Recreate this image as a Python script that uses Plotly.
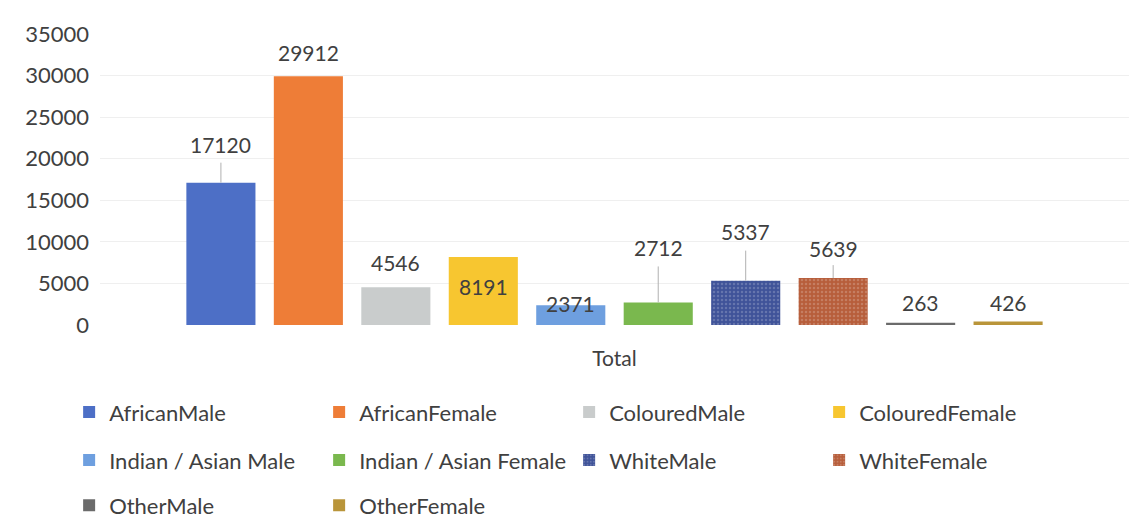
import plotly.graph_objects as go

# Series names, values and colours
series = ["AfricanMale", "AfricanFemale", "ColouredMale", "ColouredFemale",
          "Indian / Asian Male", "Indian / Asian Female", "WhiteMale", "WhiteFemale",
          "OtherMale", "OtherFemale"]
values = [17120, 29912, 4546, 8191, 2371, 2712, 5337, 5639, 263, 426]
category = ["Total"]
colors = ["#4d6fc6", "#ee7d37", "#c9cccc", "#f7c630", "#6e9fdf",
          "#7ab84e", "#3f5399", "#b75e3b", "#6b6b6b", "#b9953a"]

# Label placement (pixels above the bar top) and leader-line lengths
label_shift = [38, 24, 25, -30, 2, 55, 49, 30, 20, 19]
leader_len = [20, 0, 0, 0, 0, 36, 30, 13, 0, 0]
legend_rows = ["legend", "legend", "legend", "legend",
               "legend2", "legend2", "legend2", "legend2",
               "legend3", "legend3"]

FONT = "Lato"
TXT = "#404040"
BARGAP = 0.15
GROUPGAP = 0.21

fig = go.Figure()
for i, (name, v, c) in enumerate(zip(series, values, colors)):
    marker = dict(color=c, line=dict(width=0))
    if name in ("WhiteMale", "WhiteFemale"):
        marker["pattern"] = dict(shape=".", size=4, solidity=0.3,
                                 fgcolor="rgba(255,255,255,0.4)")
    fig.add_trace(go.Bar(x=category, y=[v], name=name, marker=marker,
                         legend=legend_rows[i], hoverinfo="name+y"))

n = len(series)
slot = (1 - BARGAP) / n
for i, v in enumerate(values):
    xc = (i - (n - 1) / 2) * slot
    fig.add_annotation(x=xc, y=v, xref="x", yref="y", text=str(v),
                       showarrow=False, yshift=label_shift[i], yanchor="middle",
                       font=dict(family=FONT, size=21, color=TXT))
    if leader_len[i]:
        fig.add_shape(type="line", xref="x", yref="y", ysizemode="pixel",
                      yanchor=v, x0=xc, x1=xc, y0=0, y1=leader_len[i],
                      line=dict(color="#b0b0b0", width=1))

leg = dict(orientation="h", entrywidth=205, entrywidthmode="pixels",
           x=-0.03, xanchor="left", yanchor="middle",
           font=dict(family=FONT, size=22, color=TXT),
           bgcolor="rgba(0,0,0,0)", traceorder="normal")

fig.update_layout(
    width=1131, height=529,
    margin=dict(l=100, r=2, t=34, b=204),
    paper_bgcolor="white", plot_bgcolor="white",
    barmode="group", bargap=BARGAP, bargroupgap=GROUPGAP,
    showlegend=True,
    legend=dict(leg, y=-0.30),
    legend2=dict(leg, y=-0.465),
    legend3=dict(leg, y=-0.62),
    font=dict(family=FONT, color=TXT),
)
fig.update_xaxes(showline=False, showgrid=False, zeroline=False,
                 ticks="", ticklabelstandoff=19,
                 tickfont=dict(family=FONT, size=21, color=TXT))
fig.update_yaxes(range=[0, 35000], dtick=5000, tickformat="d", showgrid=True,
                 gridcolor="#efefef", gridwidth=1, zeroline=False,
                 showline=False, ticks="", ticklabelstandoff=10,
                 tickfont=dict(family=FONT, size=22, color=TXT))

fig.write_html("out.html")
